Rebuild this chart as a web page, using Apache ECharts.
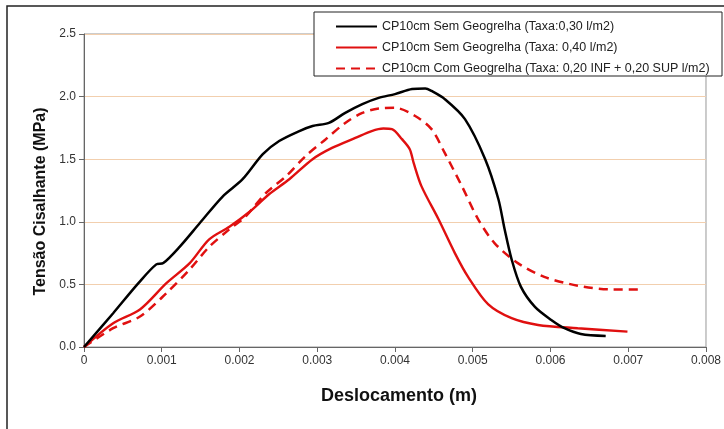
<!DOCTYPE html>
<html>
<head>
<meta charset="utf-8">
<script src="https://cdn.jsdelivr.net/npm/echarts@6/dist/echarts.min.js"></script>
<style>
  html, body { margin: 0; padding: 0; background: #fff; }
  #main { width: 724px; height: 429px; }
</style>
</head>
<body>
<div id="main"></div>
<script>
// legendas
var seriesNames = [
    'CP10cm Sem Geogrelha (Taxa:0,30 l/m2)',
    'CP10cm Sem Geogrelha (Taxa: 0,40 l/m2)',
    'CP10cm Com Geogrelha (Taxa: 0,20 INF + 0,20 SUP l/m2)'
];
// eixo x
var xTicks = [0, 0.001, 0.002, 0.003, 0.004, 0.005, 0.006, 0.007, 0.008];
var yTicks = [0, 0.5, 1.0, 1.5, 2.0, 2.5];

// CP sem geogrelha 0,30
var blackX = [0, 0.000375, 0.0007, 0.00093, 0.00102, 0.00123, 0.00149, 0.00178, 0.00204, 0.0023, 0.00251, 0.00277, 0.00294, 0.00315, 0.00336, 0.00358, 0.00379, 0.004, 0.00422, 0.00439, 0.00447, 0.00464, 0.0049, 0.00516, 0.00533, 0.00541, 0.0055, 0.00562, 0.0058, 0.00601, 0.00618, 0.00639, 0.00671];
var blackY = [0, 0.27, 0.51, 0.66, 0.67, 0.80, 0.99, 1.20, 1.34, 1.54, 1.645, 1.725, 1.765, 1.79, 1.87, 1.94, 1.99, 2.02, 2.06, 2.065, 2.045, 1.98, 1.82, 1.50, 1.18, 0.94, 0.70, 0.48, 0.32, 0.216, 0.15, 0.104, 0.088];
// CP sem geogrelha 0,40
var redX = [0, 0.000375, 0.00072, 0.00106, 0.00136, 0.00161, 0.00187, 0.00213, 0.00238, 0.00264, 0.00294, 0.00319, 0.00349, 0.0037, 0.00385, 0.00396, 0.00409, 0.00419, 0.00424, 0.00434, 0.00456, 0.00477, 0.00494, 0.0052, 0.0055, 0.00584, 0.00635, 0.00699];
var redY = [0, 0.19, 0.30, 0.51, 0.67, 0.86, 0.96, 1.08, 1.22, 1.34, 1.50, 1.59, 1.67, 1.725, 1.745, 1.74, 1.66, 1.58, 1.47, 1.285, 1.02, 0.75, 0.56, 0.34, 0.23, 0.176, 0.15, 0.123];
// CP com geogrelha
var dashX = [0, 0.000375, 0.00072, 0.00106, 0.00136, 0.00161, 0.00187, 0.00208, 0.00234, 0.0026, 0.00285, 0.00311, 0.00336, 0.00358, 0.00379, 0.004, 0.00426, 0.00447, 0.00464, 0.00486, 0.00507, 0.00528, 0.00558, 0.00592, 0.00635, 0.00678, 0.00716];
var dashY = [0, 0.15, 0.243, 0.43, 0.62, 0.80, 0.94, 1.044, 1.23, 1.365, 1.525, 1.66, 1.79, 1.87, 1.905, 1.91, 1.845, 1.74, 1.55, 1.285, 1.02, 0.83, 0.67, 0.56, 0.49, 0.46, 0.46];

function pares(xs, ys) {
    var out = [];
    for (var i = 0; i < xs.length; i++) out.push([xs[i], ys[i]]);
    return out;
}

var myChart = echarts.init(document.getElementById('main'), null, {renderer: 'canvas'});
var option = {
    animation: false,
    backgroundColor: '#fff',
    textStyle: {fontFamily: 'Liberation Sans, Arial, sans-serif'},
    graphic: [
        {   // moldura externa
            type: 'rect', z: -1, silent: true,
            shape: {x: 7, y: 6, width: 740, height: 450},
            style: {fill: 'none', stroke: '#222', lineWidth: 1.5}
        },
        {   // caixa da legenda
            type: 'rect', z: 10, silent: true,
            shape: {x: 314, y: 12, width: 408, height: 64},
            style: {fill: '#fff', stroke: '#222', lineWidth: 1}
        }
    ],
    grid: {
        left: 84, right: 14, top: 34, bottom: 82,
        show: true, borderColor: '#999', borderWidth: 1
    },
    legend: {
        orient: 'vertical',
        left: 330, top: 15,
        z: 20,
        itemWidth: 41, itemHeight: 14, itemGap: 8,
        data: seriesNames,
        itemStyle: {opacity: 0},
        textStyle: {fontSize: 12.5, color: '#222'}
    },
    xAxis: {
        type: 'value',
        min: 0, max: 0.008, interval: 0.001,
        name: 'Deslocamento (m)',
        nameLocation: 'middle', nameGap: 40,
        nameTextStyle: {fontSize: 18, fontWeight: 'bold', color: '#111', padding: [0, 0, 0, 8]},
        axisLine: {lineStyle: {color: '#666'}},
        axisTick: {show: true, length: 5, lineStyle: {color: '#666'}},
        axisLabel: {
            fontSize: 12, color: '#333', margin: 8,
            formatter: function (v) { return xTicks.indexOf(v) === 0 ? '0' : v.toFixed(3); }
        },
        splitLine: {show: false}
    },
    yAxis: {
        type: 'value',
        min: 0, max: 2.5, interval: 0.5,
        name: 'Tensão Cisalhante (MPa)',
        nameLocation: 'middle', nameGap: 34,
        nameTextStyle: {fontSize: 16, fontWeight: 'bold', color: '#111', padding: [0, 22, 0, 0]},
        axisLine: {show: true, lineStyle: {color: '#666'}},
        axisTick: {show: true, length: 5, lineStyle: {color: '#666'}},
        axisLabel: {
            fontSize: 12, color: '#333', margin: 8,
            formatter: function (v) { return v.toFixed(1); }
        },
        splitLine: {show: true, lineStyle: {color: '#f2cfae', width: 1}}
    },
    series: [
        {
            name: seriesNames[0], type: 'line', symbol: 'none', smooth: 0.3,
            data: pares(blackX, blackY),
            lineStyle: {color: '#000', width: 2.5},
            itemStyle: {color: '#000'}, z: 3
        },
        {
            name: seriesNames[1], type: 'line', symbol: 'none', smooth: 0.3,
            data: pares(redX, redY),
            lineStyle: {color: '#e01010', width: 2.4},
            itemStyle: {color: '#e01010'}, z: 2
        },
        {
            name: seriesNames[2], type: 'line', symbol: 'none', smooth: 0.3,
            data: pares(dashX, dashY),
            lineStyle: {color: '#e01010', width: 2.5, type: [9, 6]},
            itemStyle: {color: '#e01010'}, z: 2
        }
    ]
};
myChart.setOption(option);
</script>
</body>
</html>
